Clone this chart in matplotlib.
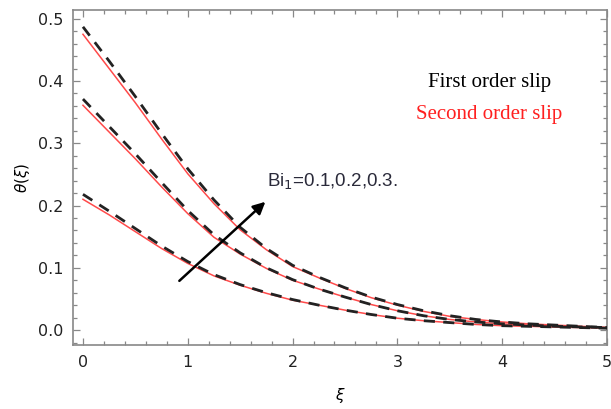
import numpy as np
import matplotlib
matplotlib.use("Agg")
import matplotlib.pyplot as plt
from matplotlib.ticker import MultipleLocator

# values
xi = [0, 0.25, 0.5, 0.75, 1.0, 1.25, 1.5, 1.75, 2.0, 2.25, 2.5,
      2.75, 3.0, 3.25, 3.5, 3.75, 4.0, 4.25, 4.5, 4.75, 5.0]

# first order slip (dashed black), Bi1 = 0.1, 0.2, 0.3
first_01 = [0.218, 0.191, 0.163, 0.135, 0.110, 0.089, 0.073, 0.060, 0.049, 0.040, 0.032,
            0.025, 0.019, 0.015, 0.012, 0.009, 0.007, 0.006, 0.005, 0.004, 0.003]
first_02 = [0.371, 0.327, 0.283, 0.237, 0.192, 0.153, 0.124, 0.100, 0.081, 0.066, 0.053,
            0.041, 0.031, 0.023, 0.017, 0.013, 0.010, 0.008, 0.006, 0.005, 0.004]
first_03 = [0.487, 0.432, 0.375, 0.316, 0.259, 0.209, 0.165, 0.131, 0.104, 0.085, 0.068,
            0.053, 0.041, 0.031, 0.023, 0.017, 0.013, 0.010, 0.008, 0.006, 0.004]

# second order slip (solid red)
second_01 = [0.210, 0.185, 0.158, 0.131, 0.107, 0.087, 0.072, 0.059, 0.048, 0.040, 0.032,
             0.025, 0.019, 0.015, 0.012, 0.009, 0.007, 0.006, 0.005, 0.004, 0.003]
second_02 = [0.361, 0.318, 0.275, 0.230, 0.187, 0.149, 0.122, 0.099, 0.080, 0.066, 0.053,
             0.041, 0.031, 0.023, 0.017, 0.013, 0.010, 0.008, 0.006, 0.005, 0.004]
second_03 = [0.475, 0.420, 0.365, 0.307, 0.251, 0.203, 0.161, 0.129, 0.102, 0.084, 0.067,
             0.052, 0.040, 0.030, 0.022, 0.017, 0.013, 0.010, 0.008, 0.006, 0.004]

fig = plt.figure(figsize=(6.11, 4.09), dpi=100)
ax = fig.add_axes([73/611, 1-345/409, (607-73)/611, (345-10)/409])

for s in [second_01, second_02, second_03]:
    ax.plot(xi, s, color='#ff4a4a', lw=1.1, zorder=2)
for f in [first_01, first_02, first_03]:
    ax.plot(xi, f, color='#222222', lw=2.0, dashes=(4, 3), zorder=3)

ax.xaxis.set_major_locator(MultipleLocator(1))
ax.xaxis.set_minor_locator(MultipleLocator(0.2))
ax.yaxis.set_major_locator(MultipleLocator(0.1))
ax.yaxis.set_minor_locator(MultipleLocator(0.02))
ax.set_xticks(range(6))
ax.set_xticklabels(['0', '1', '2', '3', '4', '5'])
yt = [0.0, 0.1, 0.2, 0.3, 0.4, 0.5]
ax.set_yticks(yt)
ax.set_yticklabels(['%.1f' % v for v in yt])
ax.set_xlim(-0.095, 5.0)
ax.set_ylim(-0.024, 0.514)

ax.tick_params(which='both', direction='in', top=True, right=True,
               color='#888888', labelsize=11.5, labelcolor='#222222', width=0.9)
ax.tick_params(which='major', length=5, pad=7)
ax.tick_params(which='minor', length=3)
for sp in ax.spines.values():
    sp.set_color('#888888')
    sp.set_linewidth(1.2)

ax.set_ylabel(r'$\theta(\xi)$', fontsize=11, labelpad=4)
ax.set_xlabel(r'$\xi$', fontsize=11, labelpad=12)

# arrow and annotation
ax.annotate('', xy=(1.76, 0.209), xytext=(0.90, 0.076),
            arrowprops=dict(arrowstyle='-|>', color='black', lw=1.8,
                            mutation_scale=18))
ax.text(1.76, 0.238, r'Bi$_1$=0.1,0.2,0.3.', fontsize=13.5, color='#2a2a3a',
        family='Liberation Sans', va='center')

ax.text(3.88, 0.397, 'First order slip', fontsize=15, color='black',
        family='Liberation Serif', ha='center', va='center')
ax.text(3.88, 0.346, 'Second order slip', fontsize=15, color='#ff2020',
        family='Liberation Serif', ha='center', va='center')

fig.savefig('out.png', dpi=100)
